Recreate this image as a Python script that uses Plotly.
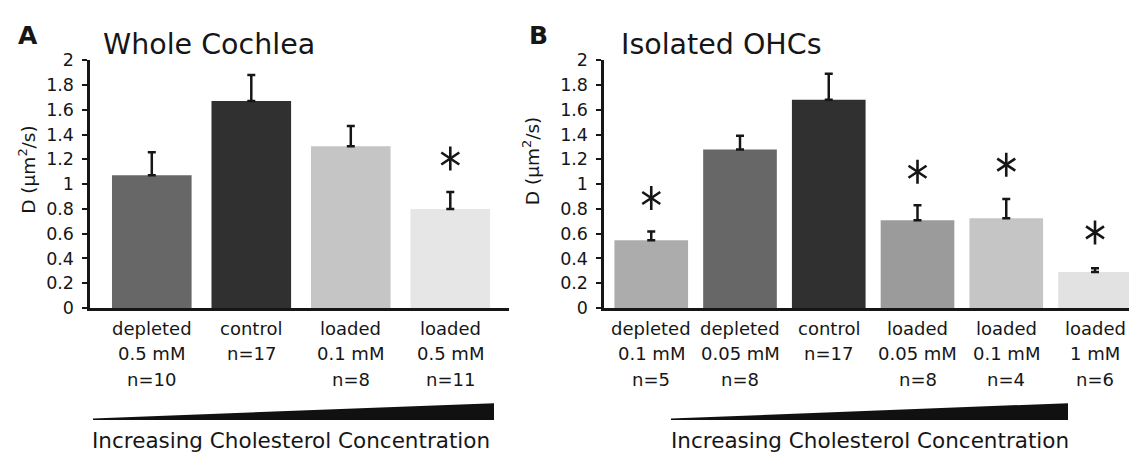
import plotly.graph_objects as go

W, H = 1129, 461

# ---------------- data ----------------
# Panel A: Whole Cochlea
cats_a_line1 = ["depleted", "control", "loaded", "loaded"]
cats_a_line2 = ["0.5 mM", "n=17", "0.1 mM", "0.5 mM"]
cats_a_line3 = ["n=10", "", "n=8", "n=11"]
vals_a = [1.072, 1.67, 1.305, 0.80]
err_a = [0.186, 0.21, 0.165, 0.136]
colors_a = ["#676767", "#303030", "#c4c5c4", "#e6e6e6"]
star_a = [None, None, None, 1.207]

# Panel B: Isolated OHCs
cats_b_line1 = ["depleted", "depleted", "control", "loaded", "loaded", "loaded"]
cats_b_line2 = ["0.1 mM", "0.05 mM", "n=17", "0.05 mM", "0.1 mM", "1 mM"]
cats_b_line3 = ["n=5", "n=8", "", "n=8", "n=4", "n=6"]
vals_b = [0.546, 1.28, 1.68, 0.708, 0.724, 0.29]
err_b = [0.072, 0.11, 0.21, 0.122, 0.156, 0.03]
colors_b = ["#acacac", "#676767", "#303030", "#9a9b9a", "#c4c5c4", "#e2e2e2"]
star_b = [0.888, None, None, 1.10, 1.157, 0.61]

y_tickvals = [0, 0.2, 0.4, 0.6, 0.8, 1.0, 1.2, 1.4, 1.6, 1.8, 2.0]
y_ticktext = ["0", "0.2", "0.4", "0.6", "0.8", "1", "1.2", "1.4", "1.6", "1.8", "2"]

titles = ["Whole Cochlea", "Isolated OHCs"]
panel_letters = ["A", "B"]
ylabel = "D (μm<sup>2</sup>/s)"
gradient_label = "Increasing Cholesterol Concentration"

# ---------------- styling ----------------
FONT = "DejaVu Sans"
INK = "#161616"


def px(x):
    return x / W


def py(y):
    return 1 - y / H


fig = go.Figure()

panels = [
    dict(vals=vals_a, err=err_a, colors=colors_a, star=star_a,
         l1=cats_a_line1, l2=cats_a_line2, l3=cats_a_line3,
         xa="x", ya="y", width=0.8),
    dict(vals=vals_b, err=err_b, colors=colors_b, star=star_b,
         l1=cats_b_line1, l2=cats_b_line2, l3=cats_b_line3,
         xa="x2", ya="y2", width=0.83),
]

for p in panels:
    xs = list(range(len(p["vals"])))
    fig.add_trace(go.Bar(
        x=xs, y=p["vals"], width=p["width"],
        marker=dict(color=p["colors"], line=dict(width=0)),
        error_y=dict(type="data", symmetric=False, array=p["err"],
                     arrayminus=[0] * len(xs), color=INK,
                     thickness=2.5, width=4),
        xaxis=p["xa"], yaxis=p["ya"], showlegend=False, hoverinfo="skip",
    ))
    sx = [i for i, s in enumerate(p["star"]) if s is not None]
    sy = [s for s in p["star"] if s is not None]
    for sym in ["y-up-open", "y-down-open"]:
        fig.add_trace(go.Scatter(
            x=sx, y=sy, mode="markers",
            marker=dict(symbol=sym, size=15, color=INK,
                        line=dict(width=2.6, color=INK)),
            xaxis=p["xa"], yaxis=p["ya"], showlegend=False, hoverinfo="skip",
            cliponaxis=False,
        ))

ydom = [py(311.5), py(52.5)]
axis_common = dict(showgrid=False, zeroline=False, showline=True,
                   linecolor=INK, linewidth=3)
yaxis_common = dict(axis_common, range=[0, 2], tickvals=y_tickvals,
                    ticktext=y_ticktext, ticks="outside", ticklen=5,
                    tickwidth=2, tickcolor=INK, ticklabelstandoff=4,
                    tickfont=dict(family=FONT, size=17.5, color=INK),
                    domain=ydom, fixedrange=True)
xaxis_common = dict(axis_common, showticklabels=False, ticks="",
                    fixedrange=True)

annotations = []
for p, xref in [(panels[0], "x"), (panels[1], "x2")]:
    for i in range(len(p["vals"])):
        for line, ypix in [(p["l1"][i], 333), (p["l2"][i], 359.5), (p["l3"][i], 386)]:
            if line:
                annotations.append(dict(
                    x=i, xref=xref, y=py(ypix), yref="paper", text=line,
                    showarrow=False, xanchor="center", yanchor="middle",
                    font=dict(family=FONT, size=18, color=INK)))

# titles and panel letters
for title, letter, tx, lx in [(titles[0], panel_letters[0], 101, 16),
                              (titles[1], panel_letters[1], 619, 527)]:
    annotations.append(dict(x=px(tx), y=py(36), xref="paper", yref="paper",
                            text=title, showarrow=False, xanchor="left",
                            yanchor="middle",
                            font=dict(family=FONT, size=28.5, color=INK)))
    annotations.append(dict(x=px(lx), y=py(27), xref="paper", yref="paper",
                            text="<b>" + letter + "</b>", showarrow=False,
                            xanchor="left", yanchor="middle",
                            font=dict(family=FONT, size=25, color=INK)))

# y-axis labels
for lx, ly in [(27, 167), (531, 158)]:
    annotations.append(dict(x=px(lx), y=py(ly), xref="paper", yref="paper",
                            text=ylabel, showarrow=False, textangle=-90,
                            xanchor="center", yanchor="middle",
                            font=dict(family=FONT, size=18.5, color=INK)))

# gradient labels
for cx in [291, 870]:
    annotations.append(dict(x=px(cx), y=py(450), xref="paper", yref="paper",
                            text=gradient_label, showarrow=False,
                            xanchor="center", yanchor="middle",
                            font=dict(family=FONT, size=21.5, color=INK)))

# gradient wedges
shapes = []
for x0, x1 in [(93, 494), (671, 1068)]:
    path = (f"M {px(x0)},{py(428.5)} L {px(x0)},{py(427)} "
            f"L {px(x1)},{py(411)} L {px(x1)},{py(428.5)} Z")
    shapes.append(dict(type="path", xref="paper", yref="paper", path=path,
                       fillcolor="#111111", line=dict(width=0)))

fig.update_layout(
    width=W, height=H,
    margin=dict(l=0, r=0, t=0, b=0),
    paper_bgcolor="white", plot_bgcolor="white",
    showlegend=False,
    xaxis=dict(xaxis_common, domain=[px(89.5), px(509)], range=[-0.626, 3.59],
               anchor="y"),
    yaxis=dict(yaxis_common, anchor="x"),
    xaxis2=dict(xaxis_common, domain=[px(603.5), 1.0], range=[-0.538, 5.383],
                anchor="y2"),
    yaxis2=dict(yaxis_common, anchor="x2"),
    annotations=annotations,
    shapes=shapes,
)

fig.write_html("out.html")
